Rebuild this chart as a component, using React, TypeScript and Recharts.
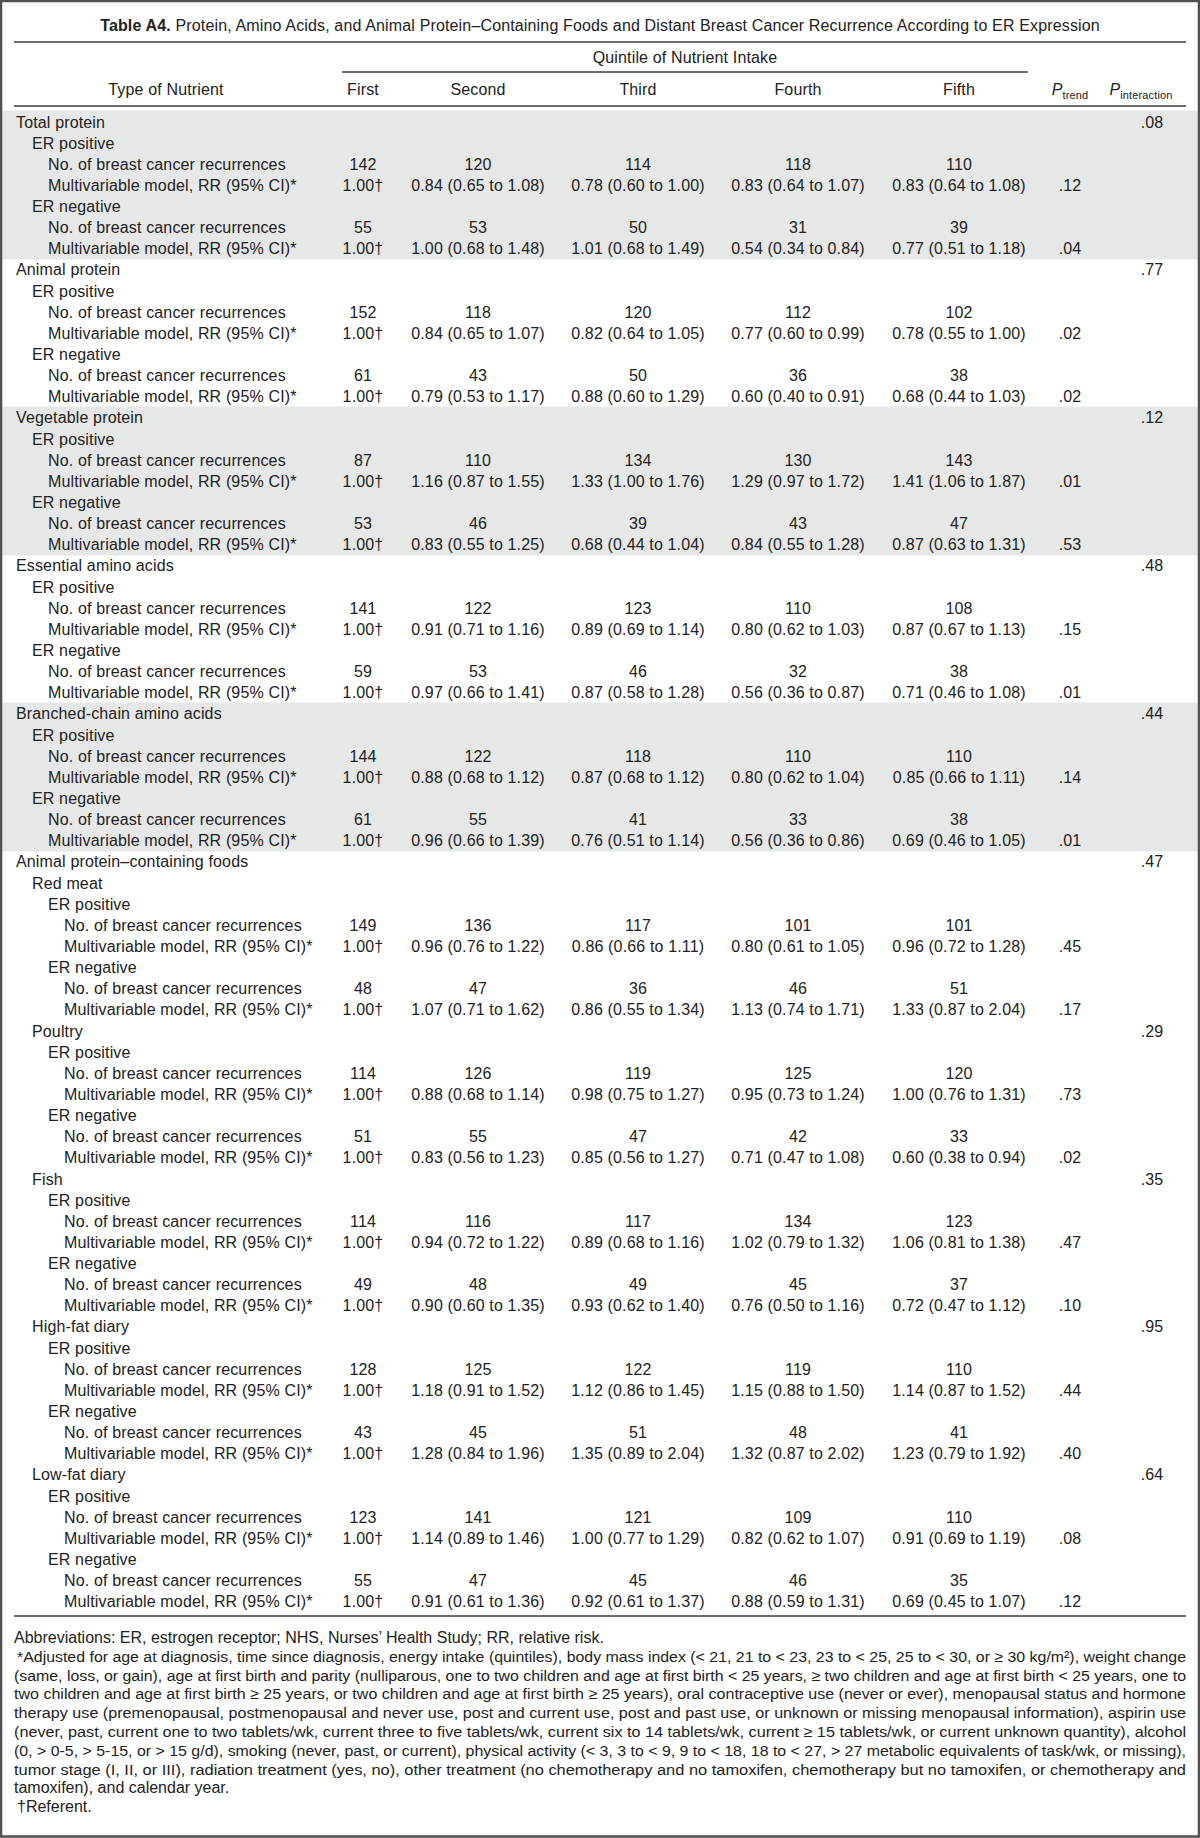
import { Layer, Rectangle, Surface } from "recharts";

const quintileLabels = ["First", "Second", "Third", "Fourth", "Fifth"];

const nutrientNames = [
  "Total protein",
  "Animal protein",
  "Vegetable protein",
  "Essential amino acids",
  "Branched-chain amino acids",
];
const nutrientPInteraction = [".08", ".77", ".12", ".48", ".44"];
const nutrientShaded = [true, false, true, false, true];

const foodGroupLabel = "Animal protein–containing foods";
const foodGroupPInteraction = ".47";
const foodNames = ["Red meat", "Poultry", "Fish", "High-fat diary", "Low-fat diary"];
const foodPInteraction = ["", ".29", ".35", ".95", ".64"];

// nutrients first (5), then foods (5)
const erPositiveCounts = [
  [142, 120, 114, 118, 110],
  [152, 118, 120, 112, 102],
  [87, 110, 134, 130, 143],
  [141, 122, 123, 110, 108],
  [144, 122, 118, 110, 110],
  [149, 136, 117, 101, 101],
  [114, 126, 119, 125, 120],
  [114, 116, 117, 134, 123],
  [128, 125, 122, 119, 110],
  [123, 141, 121, 109, 110],
];
const erPositiveRR = [
  ["0.84 (0.65 to 1.08)", "0.78 (0.60 to 1.00)", "0.83 (0.64 to 1.07)", "0.83 (0.64 to 1.08)"],
  ["0.84 (0.65 to 1.07)", "0.82 (0.64 to 1.05)", "0.77 (0.60 to 0.99)", "0.78 (0.55 to 1.00)"],
  ["1.16 (0.87 to 1.55)", "1.33 (1.00 to 1.76)", "1.29 (0.97 to 1.72)", "1.41 (1.06 to 1.87)"],
  ["0.91 (0.71 to 1.16)", "0.89 (0.69 to 1.14)", "0.80 (0.62 to 1.03)", "0.87 (0.67 to 1.13)"],
  ["0.88 (0.68 to 1.12)", "0.87 (0.68 to 1.12)", "0.80 (0.62 to 1.04)", "0.85 (0.66 to 1.11)"],
  ["0.96 (0.76 to 1.22)", "0.86 (0.66 to 1.11)", "0.80 (0.61 to 1.05)", "0.96 (0.72 to 1.28)"],
  ["0.88 (0.68 to 1.14)", "0.98 (0.75 to 1.27)", "0.95 (0.73 to 1.24)", "1.00 (0.76 to 1.31)"],
  ["0.94 (0.72 to 1.22)", "0.89 (0.68 to 1.16)", "1.02 (0.79 to 1.32)", "1.06 (0.81 to 1.38)"],
  ["1.18 (0.91 to 1.52)", "1.12 (0.86 to 1.45)", "1.15 (0.88 to 1.50)", "1.14 (0.87 to 1.52)"],
  ["1.14 (0.89 to 1.46)", "1.00 (0.77 to 1.29)", "0.82 (0.62 to 1.07)", "0.91 (0.69 to 1.19)"],
];
const erPositivePTrend = [".12", ".02", ".01", ".15", ".14", ".45", ".73", ".47", ".44", ".08"];

const erNegativeCounts = [
  [55, 53, 50, 31, 39],
  [61, 43, 50, 36, 38],
  [53, 46, 39, 43, 47],
  [59, 53, 46, 32, 38],
  [61, 55, 41, 33, 38],
  [48, 47, 36, 46, 51],
  [51, 55, 47, 42, 33],
  [49, 48, 49, 45, 37],
  [43, 45, 51, 48, 41],
  [55, 47, 45, 46, 35],
];
const erNegativeRR = [
  ["1.00 (0.68 to 1.48)", "1.01 (0.68 to 1.49)", "0.54 (0.34 to 0.84)", "0.77 (0.51 to 1.18)"],
  ["0.79 (0.53 to 1.17)", "0.88 (0.60 to 1.29)", "0.60 (0.40 to 0.91)", "0.68 (0.44 to 1.03)"],
  ["0.83 (0.55 to 1.25)", "0.68 (0.44 to 1.04)", "0.84 (0.55 to 1.28)", "0.87 (0.63 to 1.31)"],
  ["0.97 (0.66 to 1.41)", "0.87 (0.58 to 1.28)", "0.56 (0.36 to 0.87)", "0.71 (0.46 to 1.08)"],
  ["0.96 (0.66 to 1.39)", "0.76 (0.51 to 1.14)", "0.56 (0.36 to 0.86)", "0.69 (0.46 to 1.05)"],
  ["1.07 (0.71 to 1.62)", "0.86 (0.55 to 1.34)", "1.13 (0.74 to 1.71)", "1.33 (0.87 to 2.04)"],
  ["0.83 (0.56 to 1.23)", "0.85 (0.56 to 1.27)", "0.71 (0.47 to 1.08)", "0.60 (0.38 to 0.94)"],
  ["0.90 (0.60 to 1.35)", "0.93 (0.62 to 1.40)", "0.76 (0.50 to 1.16)", "0.72 (0.47 to 1.12)"],
  ["1.28 (0.84 to 1.96)", "1.35 (0.89 to 2.04)", "1.32 (0.87 to 2.02)", "1.23 (0.79 to 1.92)"],
  ["0.91 (0.61 to 1.36)", "0.92 (0.61 to 1.37)", "0.88 (0.59 to 1.31)", "0.69 (0.45 to 1.07)"],
];
const erNegativePTrend = [".04", ".02", ".53", ".01", ".01", ".17", ".02", ".10", ".40", ".12"];

const referentLabel = "1.00†";

const footnoteLines = [
  "Abbreviations: ER, estrogen receptor; NHS, Nurses’ Health Study; RR, relative risk.",
  "*Adjusted for age at diagnosis, time since diagnosis, energy intake (quintiles), body mass index (< 21, 21 to < 23, 23 to < 25, 25 to < 30, or ≥ 30 kg/m²), weight change",
  "(same, loss, or gain), age at first birth and parity (nulliparous, one to two children and age at first birth < 25 years, ≥ two children and age at first birth < 25 years, one to",
  "two children and age at first birth ≥ 25 years, or two children and age at first birth ≥ 25 years), oral contraceptive use (never or ever), menopausal status and hormone",
  "therapy use (premenopausal, postmenopausal and never use, post and current use, post and past use, or unknown or missing menopausal information), aspirin use",
  "(never, past, current one to two tablets/wk, current three to five tablets/wk, current six to 14 tablets/wk, current ≥ 15 tablets/wk, or current unknown quantity), alcohol",
  "(0, > 0-5, > 5-15, or > 15 g/d), smoking (never, past, or current), physical activity (< 3, 3 to < 9, 9 to < 18, 18 to < 27, > 27 metabolic equivalents of task/wk, or missing),",
  "tumor stage (I, II, or III), radiation treatment (yes, no), other treatment (no chemotherapy and no tamoxifen, chemotherapy but no tamoxifen, or chemotherapy and",
  "tamoxifen), and calendar year.",
  "†Referent.",
];
const footnoteJustified = [false, true, true, true, true, true, true, true, false, false];

const W = 1200;
const H = 1838;
const FONT = "'Liberation Sans', Arial, Helvetica, sans-serif";
const TEXT = "#222";
const RULE = "#3c3c3c";
const SHADE = "#e6e7e7";
const ROW_H = 21.14;
const BODY_TOP = 111;
const LEFT = 16;
const INDENT = 16;
const colX = [363, 478, 638, 798, 959];
const pTrendX = 1070;
const pIntX = 1152;

type Row = {
  label: string;
  level: number;
  cells?: string[];
  pTrend?: string;
  pInt?: string;
  shaded: boolean;
};

const buildRows = (): Row[] => {
  const rows: Row[] = [];
  const erBlock = (k: number, base: number, shaded: boolean) => {
    rows.push({ label: "ER positive", level: base, shaded });
    rows.push({
      label: "No. of breast cancer recurrences",
      level: base + 1,
      cells: erPositiveCounts[k].map(String),
      shaded,
    });
    rows.push({
      label: "Multivariable model, RR (95% CI)*",
      level: base + 1,
      cells: [referentLabel, ...erPositiveRR[k]],
      pTrend: erPositivePTrend[k],
      shaded,
    });
    rows.push({ label: "ER negative", level: base, shaded });
    rows.push({
      label: "No. of breast cancer recurrences",
      level: base + 1,
      cells: erNegativeCounts[k].map(String),
      shaded,
    });
    rows.push({
      label: "Multivariable model, RR (95% CI)*",
      level: base + 1,
      cells: [referentLabel, ...erNegativeRR[k]],
      pTrend: erNegativePTrend[k],
      shaded,
    });
  };
  nutrientNames.forEach((name, i) => {
    rows.push({ label: name, level: 0, pInt: nutrientPInteraction[i], shaded: nutrientShaded[i] });
    erBlock(i, 1, nutrientShaded[i]);
  });
  rows.push({ label: foodGroupLabel, level: 0, pInt: foodGroupPInteraction, shaded: false });
  foodNames.forEach((name, j) => {
    rows.push({ label: name, level: 1, pInt: foodPInteraction[j], shaded: false });
    erBlock(nutrientNames.length + j, 2, false);
  });
  return rows;
};

const rows = buildRows();

const App = () => {
  const bottomRuleY = BODY_TOP + rows.length * ROW_H + 4;
  const footTop = 1643;
  const footStep = 18.8;
  return (
    <div style={{ position: "absolute", left: 0, top: 0, width: W, height: H, background: "#fff" }}>
      <Surface width={W} height={H} style={{ fontFamily: FONT, letterSpacing: "0.15px" }}>
        <Layer>
          {rows.map((r, i) =>
            r.shaded ? (
              <Rectangle
                key={`s${i}`}
                x={0}
                y={BODY_TOP + i * ROW_H - 0.5}
                width={W}
                height={ROW_H + 1}
                fill={SHADE}
              />
            ) : null
          )}
        </Layer>
        <Layer fill={TEXT} fontSize={16}>
          <text x={600} y={31} textAnchor="middle">
            <tspan fontWeight="bold">Table A4.</tspan>
            <tspan> Protein, Amino Acids, and Animal Protein–Containing Foods and Distant Breast Cancer Recurrence According to ER Expression</tspan>
          </text>
          <text x={685} y={63} textAnchor="middle">Quintile of Nutrient Intake</text>
          <text x={166} y={95} textAnchor="middle">Type of Nutrient</text>
          {quintileLabels.map((q, i) => (
            <text key={q} x={colX[i]} y={95} textAnchor="middle">{q}</text>
          ))}
          <text x={pTrendX} y={95} textAnchor="middle">
            <tspan fontStyle="italic">P</tspan>
            <tspan fontSize={11} dy={4}>trend</tspan>
          </text>
          <text x={1141} y={95} textAnchor="middle">
            <tspan fontStyle="italic">P</tspan>
            <tspan fontSize={11} dy={4}>interaction</tspan>
          </text>
          {rows.map((r, i) => {
            const y = BODY_TOP + i * ROW_H + 16.5;
            return (
              <g key={`r${i}`}>
                <text x={LEFT + r.level * INDENT} y={y}>{r.label}</text>
                {r.cells?.map((c, k) => (
                  <text key={k} x={colX[k]} y={y} textAnchor="middle">{c}</text>
                ))}
                {r.pTrend ? <text x={pTrendX} y={y} textAnchor="middle">{r.pTrend}</text> : null}
                {r.pInt ? <text x={pIntX} y={y} textAnchor="middle">{r.pInt}</text> : null}
              </g>
            );
          })}
        </Layer>
        <Layer fill={TEXT} fontSize={15.2} style={{ letterSpacing: "0px" }}>
          {footnoteLines.map((line, i) => {
            const indent = line.startsWith("*") || line.startsWith("†") ? 3 : 0;
            return (
              <text
                key={`f${i}`}
                x={14 + indent}
                y={footTop + i * footStep}
                fontSize={footnoteJustified[i] ? 15.2 : 16}
                textLength={footnoteJustified[i] ? 1186 - 14 - indent : undefined}
                lengthAdjust={footnoteJustified[i] ? "spacingAndGlyphs" : undefined}
              >
                {line}
              </text>
            );
          })}
        </Layer>
        <Layer stroke={RULE} strokeWidth={1.6}>
          <line x1={14} x2={1186} y1={42} y2={42} />
          <line x1={342} x2={1028} y1={72} y2={72} />
          <line x1={14} x2={1186} y1={106} y2={106} />
          <line x1={14} x2={1186} y1={bottomRuleY} y2={bottomRuleY} />
        </Layer>
        <rect x={1} y={1} width={W - 2} height={H - 2.5} fill="none" stroke="#505050" strokeWidth={2.5} />
      </Surface>
    </div>
  );
};

export default App;
